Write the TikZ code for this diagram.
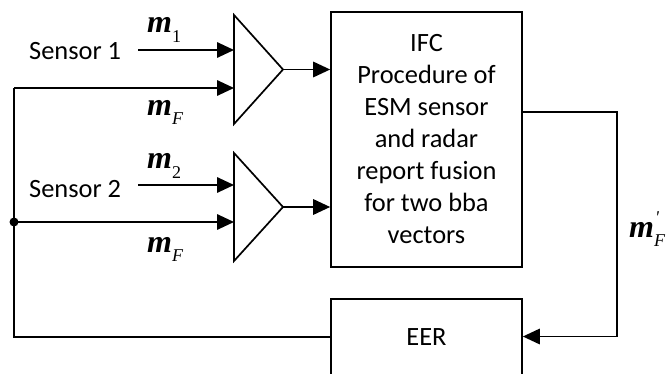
\documentclass[tikz,border=0pt]{standalone}
\usepackage{fontspec}
\setmainfont{Carlito}
\newfontfamily\tms{Liberation Serif}
\usetikzlibrary{arrows.meta}
\newcommand{\mbig}{\fontsize{32}{36}\selectfont\tms\bfseries\itshape}
\newcommand{\msub}{\fontsize{18}{20}\selectfont\tms\mdseries}
\begin{document}
\begin{tikzpicture}[x=1pt,y=-1pt,
  wire/.style={line width=1.7pt},
  arr/.style={wire,-{Triangle[length=17pt,width=15.5pt]}},
  blk/.style={draw,line width=1.7pt,inner sep=0pt,align=center,
     font=\fontsize{26.4}{32}\selectfont},
  lbl/.style={anchor=base west,inner sep=0pt,font=\fontsize{26.4}{32}\selectfont},
  mlab/.style={anchor=base west,inner sep=0pt}]
\useasboundingbox (0,0) rectangle (668,374);
% blocks
\node[blk,minimum width=191pt,minimum height=255pt] (ifc) at (426.5,139.5)
  {IFC\\Procedure of\\ESM sensor\\and radar\\report fusion\\for two bba\\vectors};
\node[blk,minimum width=191pt,minimum height=77pt] (eer) at (426.5,337.5) {EER};
% triangles
\draw[wire,line join=miter] (234,15) -- (283,69.5) -- (234,124) -- cycle;
\draw[wire,line join=miter] (234,153) -- (283,207) -- (234,261) -- cycle;
\coordinate (t1a) at (234,50);
\coordinate (t1b) at (234,88);
\coordinate (t1o) at (283,69.5);
\coordinate (t2a) at (234,185);
\coordinate (t2b) at (234,222);
\coordinate (t2o) at (283,207);
% sensor labels
\node[lbl] (s1) at (29,60) {Sensor 1};
\node[lbl] (s2) at (29,197) {Sensor 2};
\coordinate (s1o) at (138,50);
\coordinate (s2o) at (138,185);
% math labels
\node[mlab] (m1) at (147,33) {{\mbig m}\raisebox{-10pt}{\msub\upshape 1}};
\node[mlab] (mf1) at (147,116) {{\mbig m}\raisebox{-9pt}{\msub\itshape F}};
\node[mlab] (m2) at (147,168) {{\mbig m}\raisebox{-10pt}{\msub\upshape 2}};
\node[mlab] (mf2) at (147,252) {{\mbig m}\raisebox{-9pt}{\msub\itshape F}};
\node[mlab] (mfp) at (629,237) {{\mbig m}\rlap{\raisebox{14pt}{\msub\itshape\kern1pt '}}\raisebox{-9pt}{\msub\itshape F}};
% connectors
\coordinate (lt) at (14,88);
\coordinate (dot) at (14,222);
\coordinate (lb) at (14,337);
\coordinate (rt) at (617,112);
\coordinate (rb) at (617,336.5);
\draw[arr] (s1o) -- (t1a);
\draw[arr] (s2o) -- (t2a);
\draw[arr] (t1o) -- (ifc.west |- t1o);
\draw[arr] (t2o) -- (ifc.west |- t2o);
\draw[arr] (lt) -- (t1b);
\draw[arr] (dot) -- (t2b);
\draw[wire] (eer.west |- lb) -- (lb) -- (lt);
\draw[arr] (ifc.east |- rt) -- (rt) -- (rb) -- (eer.east |- rb);
\fill (dot) circle (4.5pt);
\end{tikzpicture}
\end{document}
